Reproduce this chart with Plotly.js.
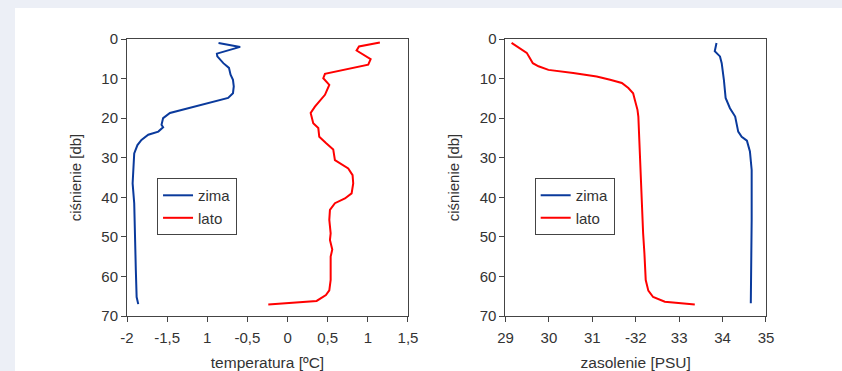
<!DOCTYPE html>
<html><head><meta charset="utf-8">
<script src="https://cdn.plot.ly/plotly-3.0.1.min.js"></script>
<style>
html,body{margin:0;padding:0;width:842px;height:371px;overflow:hidden;background:#eceff6;}
#chart{position:absolute;left:15px;top:8px;width:827px;height:363px;background:#fff;}
</style></head><body>
<div id="chart"></div>
<script>
// Temperature profiles
const zimaTempP = [1,2,3.7,4.4,6.1,7.3,9,10.3,12,13.7,14.9,18.7,20,21.7,22.3,23.4,24.2,25.5,26.8,28.9,36.5,41.5,58.4,65.2,67];
const zimaTemp  = [-0.86,-0.59,-0.88,-0.875,-0.80,-0.73,-0.71,-0.68,-0.67,-0.68,-0.74,-1.465,-1.55,-1.57,-1.55,-1.61,-1.735,-1.82,-1.87,-1.91,-1.93,-1.91,-1.89,-1.88,-1.86];
const latoTempP = [0.9,1.9,2.9,4.0,5.1,6.5,8.8,9.9,11.6,14.1,17.1,18.7,21.3,22.5,24.7,26.3,27.9,30.6,32.7,34.4,36.5,39.0,40.3,41.5,43.2,45.7,49.1,50.8,53.2,55,60.9,63.5,64.7,66.2,67.1];
const latoTemp  = [1.15,0.89,0.86,0.94,1.035,1.005,0.466,0.445,0.52,0.466,0.341,0.288,0.32,0.383,0.395,0.478,0.569,0.59,0.756,0.81,0.818,0.798,0.715,0.59,0.528,0.52,0.537,0.528,0.557,0.537,0.537,0.52,0.478,0.362,-0.24];
// Salinity profiles
const zimaSalP = [1.0,1.9,3.1,4.4,6.1,10.3,14.9,17.5,19.6,23.4,24.7,25.7,28.4,33.1,45.7,66.8];
const zimaSal  = [33.86,33.85,33.82,33.94,33.98,34.03,34.07,34.17,34.29,34.36,34.44,34.56,34.63,34.67,34.67,34.65];
const latoSalP = [1.0,2.3,3.5,4.8,6.1,6.9,7.8,8.6,9.5,10.3,11.1,12.4,13.7,15.4,17.9,19.6,25.5,32.2,41.5,49.1,54.2,60.9,63.6,65.2,66.4,67.1];
const latoSal  = [29.14,29.33,29.49,29.56,29.63,29.76,29.99,30.56,31.10,31.41,31.68,31.83,31.94,31.98,32.04,32.06,32.08,32.11,32.14,32.17,32.20,32.23,32.29,32.40,32.67,33.36];
// Tick labels
const tempTickVals = [-2,-1.5,-1,-0.5,0,0.5,1,1.5];
const tempTickText = ['-2','-1,5','1','-0,5','0','0,5','1','1,5'];
const salTickVals = [29,30,31,32,33,34,35];
const salTickText = ['29','30','31','-32','33','34','35'];
const pTickVals = [0,10,20,30,40,50,60,70];

const BLUE = '#0a3a9c', RED = '#ff0000';
const traces = [
  {x: zimaTemp, y: zimaTempP, name: 'zima', mode: 'lines', line: {color: BLUE, width: 2}, xaxis: 'x', yaxis: 'y', legend: 'legend'},
  {x: latoTemp, y: latoTempP, name: 'lato', mode: 'lines', line: {color: RED, width: 2}, xaxis: 'x', yaxis: 'y', legend: 'legend'},
  {x: zimaSal, y: zimaSalP, name: 'zima', mode: 'lines', line: {color: BLUE, width: 2}, xaxis: 'x2', yaxis: 'y2', legend: 'legend2'},
  {x: latoSal, y: latoSalP, name: 'lato', mode: 'lines', line: {color: RED, width: 2}, xaxis: 'x2', yaxis: 'y2', legend: 'legend2'}
];
const FAM = 'Liberation Sans, Arial, sans-serif';
const font = {family: FAM, size: 15, color: '#333'};
const xtFont = {family: FAM, size: 15.5, color: '#333'};
const axBase = {showgrid: false, zeroline: false, showline: true, linecolor: '#444', linewidth: 1, mirror: true,
  ticks: 'outside', ticklen: 5, tickcolor: '#444', tickfont: font};
const legBase = {font: font, bordercolor: '#444', borderwidth: 1, bgcolor: '#fff', xanchor: 'left', yanchor: 'top',
  tracegroupgap: 0, itemclick: false};
const layout = {
  width: 827, height: 363,
  margin: {l: 112, r: 76, t: 31, b: 55},
  paper_bgcolor: '#fff', plot_bgcolor: '#fff',
  font: font, showlegend: true,
  xaxis: Object.assign({}, axBase, {domain: [0, 0.4397], range: [-2, 1.5], tickvals: tempTickVals, ticktext: tempTickText,
    ticklabelstandoff: 3, anchor: 'y', title: {text: 'temperatura [ºC]', font: xtFont, standoff: 12}}),
  yaxis: Object.assign({}, axBase, {range: [70, 0], tickvals: pTickVals, anchor: 'x',
    title: {text: 'ciśnienie [db]', font: font, standoff: 16}}),
  xaxis2: Object.assign({}, axBase, {domain: [0.5923, 1], range: [29, 35], tickvals: salTickVals, ticktext: salTickText,
    ticklabelstandoff: 3, anchor: 'y2', title: {text: 'zasolenie [PSU]', font: xtFont, standoff: 12}}),
  yaxis2: Object.assign({}, axBase, {range: [70, 0], tickvals: pTickVals, anchor: 'x2',
    title: {text: 'ciśnienie [db]', font: font, standoff: 16}}),
  legend: Object.assign({}, legBase, {x: 0.047, y: 0.498}),
  legend2: Object.assign({}, legBase, {x: 0.638, y: 0.498})
};
Plotly.newPlot('chart', traces, layout, {staticPlot: true, displayModeBar: false});
</script></body></html>
